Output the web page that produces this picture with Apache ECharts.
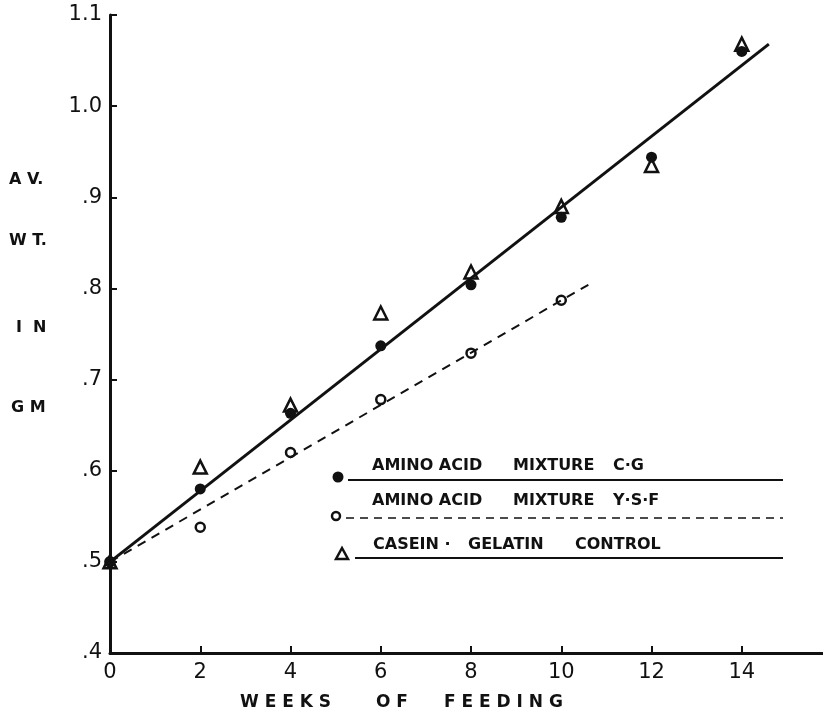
<!DOCTYPE html>
<html>
<head>
<meta charset="utf-8">
<script src="https://cdn.jsdelivr.net/npm/echarts@6/dist/echarts.min.js"></script>
<style>
  html, body { margin: 0; padding: 0; background: #fff; }
  #chart { width: 823px; height: 717px; }
</style>
</head>
<body>
<div id="chart"></div>
<script>
// Data
const weeks = [0, 2, 4, 6, 8, 10, 12, 14];
const cgWeights = [0.5, 0.58, 0.663, 0.737, 0.804, 0.878, 0.944, 1.06];
const caseinWeights = [0.5, 0.604, 0.672, 0.773, 0.818, 0.89, 0.935, 1.068];
const ysfWeeks = [0, 2, 4, 6, 8, 10];
const ysfWeights = [0.5, 0.538, 0.62, 0.678, 0.729, 0.787];

// fitted lines (start / end)
const cgFitX = [0, 14.6];
const cgFitY = [0.5, 1.068];
const ysfFitX = [0, 10.6];
const ysfFitY = [0.5, 0.804];

const xTicks = [0, 2, 4, 6, 8, 10, 12, 14];
const yTicks = [0.4, 0.5, 0.6, 0.7, 0.8, 0.9, 1.0, 1.1];

const ink = '#111';
const pairs = (xs, ys) => xs.map((x, i) => [x, ys[i]]);

const chart = echarts.init(document.getElementById('chart'));

const labelFont = 'bold 16px "DejaVu Sans"';
const legendFont = 'bold 16px "DejaVu Sans"';
const titleFont = 'bold 17px "DejaVu Sans"';

// one text piece of the hand-lettered labels
function word(text, left, top, font) {
    return { type: 'text', left: left, top: top, style: { text: text, font: font, fill: ink } };
}

chart.setOption({
    backgroundColor: '#fff',
    animation: false,
    grid: { left: 110, right: 0, top: 15, bottom: 64 },
    xAxis: {
        type: 'value',
        min: 0,
        max: 15.8,
        interval: 2,
        axisLine: { lineStyle: { color: ink, width: 3 } },
        axisTick: { inside: true, length: 7, customValues: xTicks, lineStyle: { color: ink, width: 2 } },
        axisLabel: {
            customValues: xTicks,
            color: ink,
            fontFamily: 'DejaVu Sans',
            fontSize: 21,
            margin: 9
        },
        splitLine: { show: false }
    },
    yAxis: {
        type: 'value',
        min: 0.4,
        max: 1.1,
        interval: 0.1,
        axisLine: { show: true, lineStyle: { color: ink, width: 3 } },
        axisTick: { show: true, inside: true, length: 7, customValues: yTicks, lineStyle: { color: ink, width: 2 } },
        axisLabel: {
            customValues: yTicks,
            color: ink,
            fontFamily: 'DejaVu Sans',
            fontSize: 21,
            margin: 8,
            formatter: v => {
                const s = v.toFixed(1);
                return v < 1 ? s.slice(1) : s;
            }
        },
        splitLine: { show: false }
    },
    series: [
        {
            name: 'C.G fit',
            type: 'line',
            data: pairs(cgFitX, cgFitY),
            symbol: 'none',
            lineStyle: { color: ink, width: 3 }
        },
        {
            name: 'Y.S.F fit',
            type: 'line',
            data: pairs(ysfFitX, ysfFitY),
            symbol: 'none',
            lineStyle: { color: ink, width: 2, type: [9, 7] }
        },
        {
            name: 'Casein-Gelatin control',
            type: 'scatter',
            data: pairs(weeks, caseinWeights),
            symbol: 'triangle',
            symbolSize: 13,
            itemStyle: { color: '#fff', borderColor: ink, borderWidth: 2.5, opacity: 1 }
        },
        {
            name: 'Amino acid mixture Y.S.F',
            type: 'scatter',
            data: pairs(ysfWeeks, ysfWeights),
            symbol: 'circle',
            symbolSize: 9,
            itemStyle: { color: '#fff', borderColor: ink, borderWidth: 2.5, opacity: 1 }
        },
        {
            name: 'Amino acid mixture C.G',
            type: 'scatter',
            data: pairs(weeks, cgWeights),
            symbol: 'circle',
            symbolSize: 11,
            itemStyle: { color: ink, opacity: 1 }
        }
    ],
    graphic: [
        // y axis title, stacked words
        word('A V.', 9, 172, labelFont),
        word('W T.', 9, 233, labelFont),
        word('I  N', 16, 320, labelFont),
        word('G M', 11, 400, labelFont),
        // x axis title
        word('W E E K S', 240, 694, titleFont),
        word('O F', 376, 694, titleFont),
        word('F E E D I N G', 444, 694, titleFont),

        // legend, row 1
        { type: 'circle', shape: { cx: 338, cy: 477, r: 5.5 }, style: { fill: ink } },
        { type: 'line', shape: { x1: 348, y1: 480, x2: 783, y2: 480 }, style: { stroke: ink, lineWidth: 2 } },
        word('AMINO ACID', 372, 458, legendFont),
        word('MIXTURE', 513, 458, legendFont),
        word('C·G', 613, 458, legendFont),
        // legend, row 2
        { type: 'circle', shape: { cx: 336, cy: 516, r: 4 }, style: { fill: '#fff', stroke: ink, lineWidth: 2.5 } },
        { type: 'line', shape: { x1: 346, y1: 518, x2: 783, y2: 518 }, style: { stroke: ink, lineWidth: 1.5, lineDash: [8, 6] } },
        word('AMINO ACID', 372, 493, legendFont),
        word('MIXTURE', 513, 493, legendFont),
        word('Y·S·F', 613, 493, legendFont),
        // legend, row 3
        { type: 'polygon', shape: { points: [[342, 548], [336, 559], [348, 559]] }, style: { fill: '#fff', stroke: ink, lineWidth: 2.5 } },
        { type: 'line', shape: { x1: 355, y1: 558, x2: 783, y2: 558 }, style: { stroke: ink, lineWidth: 2 } },
        word('CASEIN ·', 373, 537, legendFont),
        word('GELATIN', 468, 537, legendFont),
        word('CONTROL', 575, 537, legendFont)
    ]
});
</script>
</body>
</html>
